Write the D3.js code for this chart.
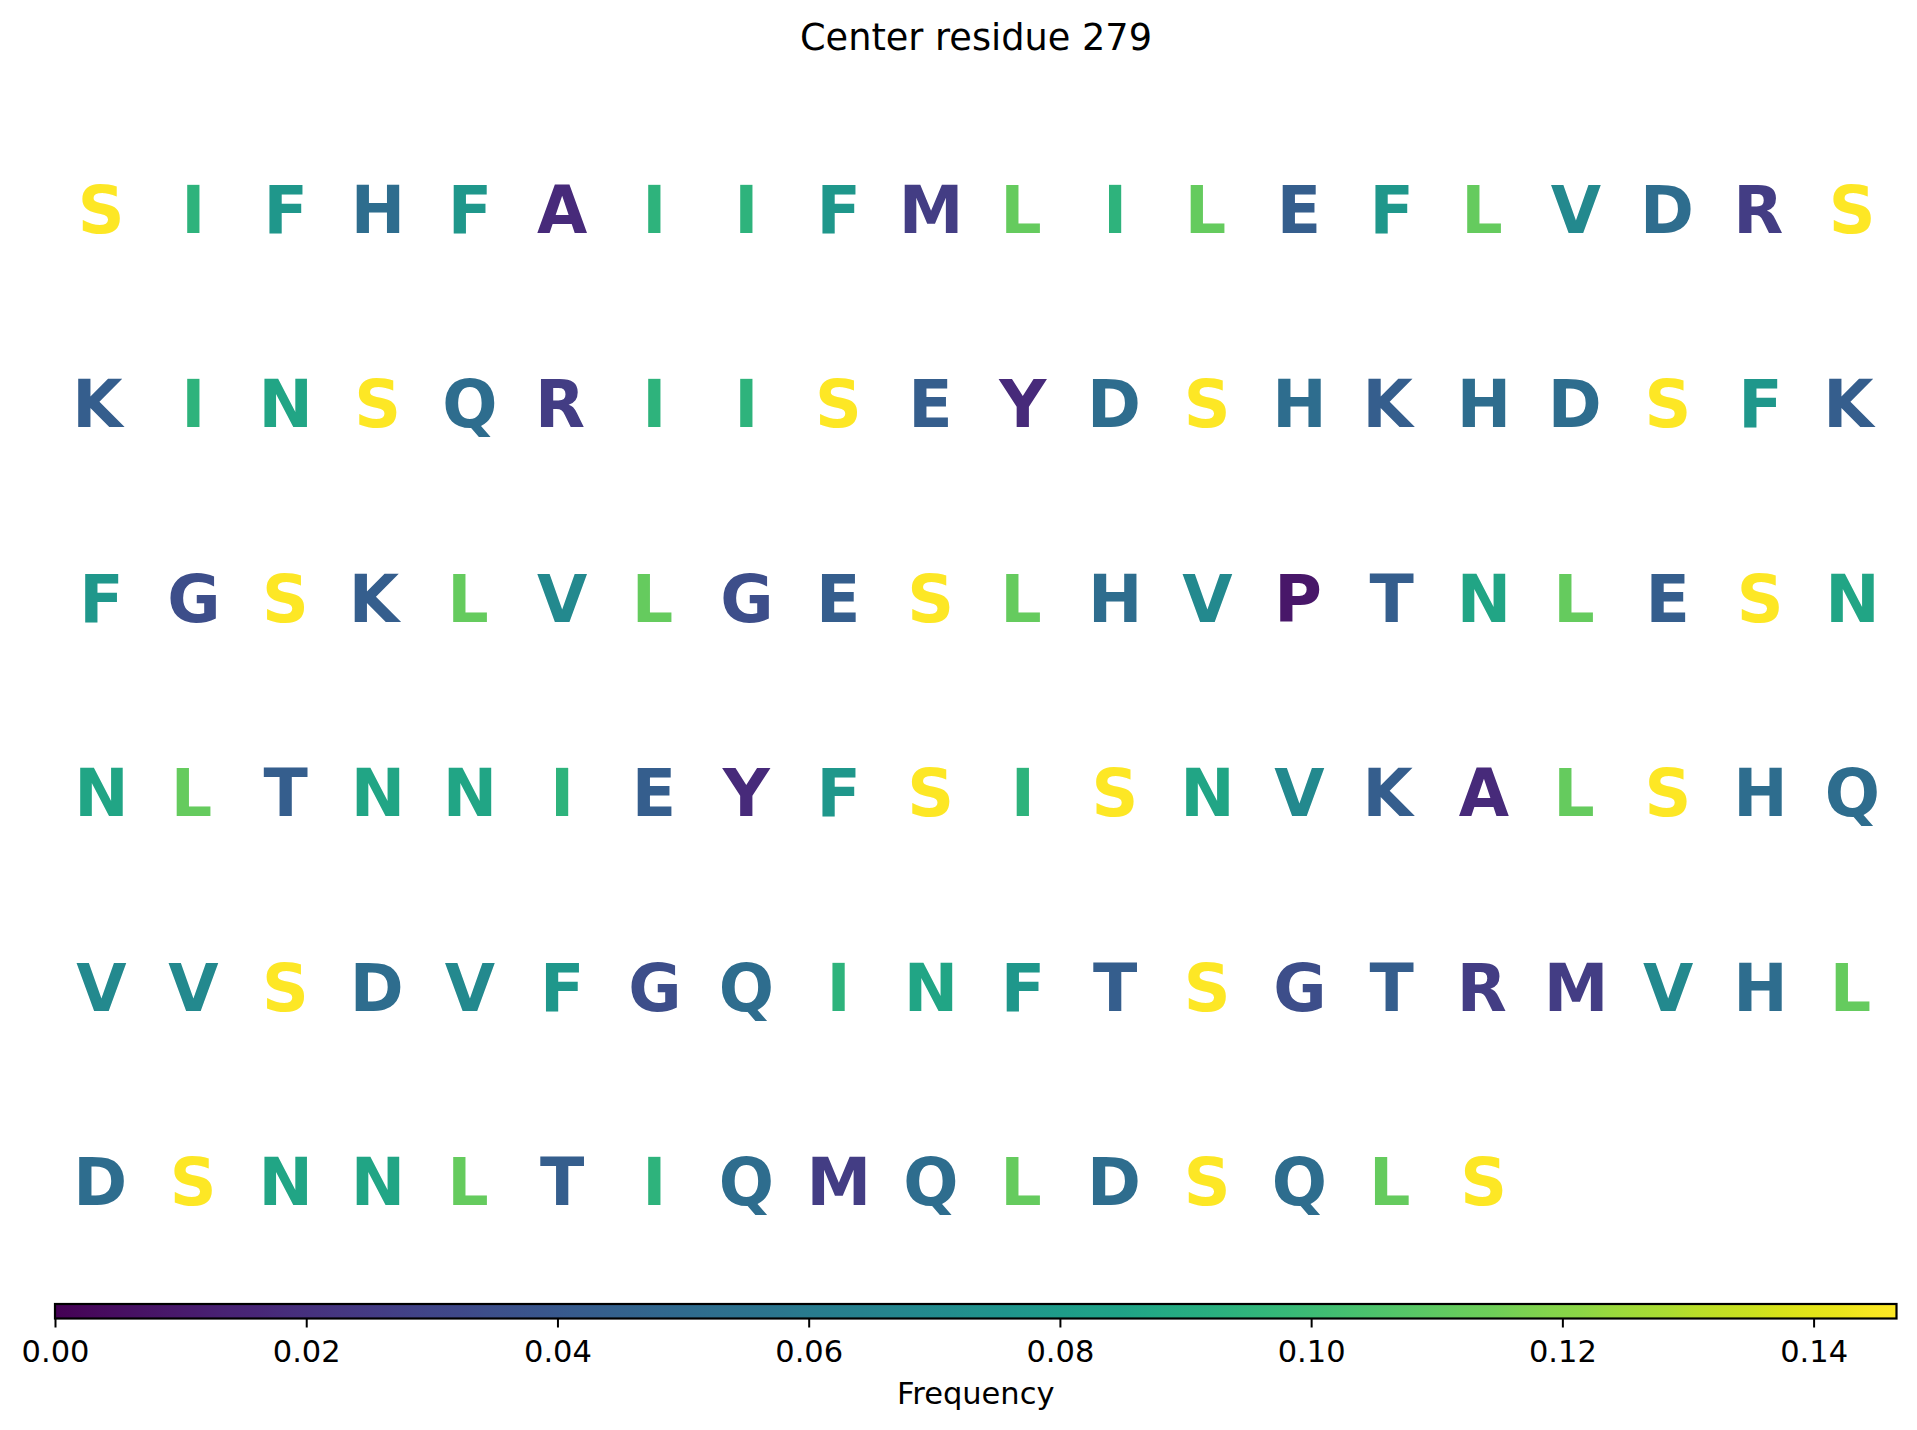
<!DOCTYPE html>
<html>
<head>
<meta charset="utf-8">
<script src="https://cdn.jsdelivr.net/npm/d3@7"></script>
<style>
  html, body { margin: 0; padding: 0; background: #ffffff; }
  svg { display: block; }
</style>
</head>
<body>
<div id="chart"></div>
<script>
// ---------------- data ----------------
const titleText = "Center residue 279";
const colorbarLabel = "Frequency";

const sequenceRows = [
  "SIFHFAIIFMLILEFLVDRS",
  "KINSQRIISEYDSHKHDSFK",
  "FGSKLVLGESLHVPTNLESN",
  "NLTNNIEYFSISNVKALSHQ",
  "VVSDVFGQINFTSGTRMVHL",
  "DSNNLTIQMQLDSQLS"
];

const aminoAcids  = ["S", "L", "I", "N", "F", "V", "D", "H", "Q", "E", "K", "T", "G", "M", "R", "A", "Y", "P"];
const frequencies = [0.1466, 0.1121, 0.0948, 0.0862, 0.0776, 0.0690, 0.0517, 0.0517, 0.0517, 0.0431, 0.0431, 0.0431, 0.0345, 0.0259, 0.0259, 0.0172, 0.0172, 0.0086];

const colorbarTicks = [0.00, 0.02, 0.04, 0.06, 0.08, 0.10, 0.12, 0.14];

// ---------------- layout ----------------
const W = 1917, H = 1430;
const letterFont = "DejaVu Sans, Liberation Sans, sans-serif";
const letterSize = 65;

const freqOf = new Map(aminoAcids.map((a, i) => [a, frequencies[i]]));
const vmax = d3.max(frequencies);

const color = d3.scaleSequential(d3.interpolateViridis).domain([0, vmax]);

const nCols = d3.max(sequenceRows, r => r.length);
const x = d3.scaleLinear().domain([0, nCols - 1]).range([101.2, 1852.3]);
const y = d3.scaleLinear().domain([0, sequenceRows.length - 1]).range([233, 1205]); // baselines

const cells = [];
sequenceRows.forEach((row, r) => {
  row.split("").forEach((ch, c) => cells.push({ ch, r, c, f: freqOf.get(ch) }));
});

// ink-centering like matplotlib (horizontal centre of glyph ink)
const cv = document.createElement("canvas").getContext("2d");
cv.font = `bold ${letterSize}px "DejaVu Sans"`;
const inkCenter = ch => {
  const m = cv.measureText(ch);
  return (m.actualBoundingBoxRight - m.actualBoundingBoxLeft) / 2;
};

const svg = d3.select("#chart").append("svg")
  .attr("width", W).attr("height", H)
  .attr("viewBox", `0 0 ${W} ${H}`);

svg.append("rect").attr("width", W).attr("height", H).attr("fill", "#ffffff");

// title
svg.append("text")
  .attr("x", 976).attr("y", 50)
  .attr("text-anchor", "middle")
  .attr("font-family", letterFont)
  .attr("font-size", 36.7)
  .attr("fill", "#000")
  .text(titleText);

// letters
svg.append("g").selectAll("text")
  .data(cells)
  .join("text")
  .attr("x", d => x(d.c) - inkCenter(d.ch))
  .attr("y", d => y(d.r))
  .attr("text-anchor", "start")
  .attr("font-family", letterFont)
  .attr("font-weight", "bold")
  .attr("font-size", letterSize)
  .attr("fill", d => color(d.f))
  .text(d => d.ch);

// ---------------- colorbar ----------------
const cbX = d3.scaleLinear().domain([0, vmax]).range([55, 1896.5]);
const cbTop = 1304, cbBottom = 1318.5;

const defs = svg.append("defs");
const grad = defs.append("linearGradient").attr("id", "viridisGrad")
  .attr("x1", "0%").attr("x2", "100%").attr("y1", "0%").attr("y2", "0%");
const nStops = 64;
grad.selectAll("stop")
  .data(d3.range(nStops + 1))
  .join("stop")
  .attr("offset", i => `${(i / nStops) * 100}%`)
  .attr("stop-color", i => color((i / nStops) * vmax));

const cb = svg.append("g");
cb.append("rect")
  .attr("x", cbX(0)).attr("y", cbTop)
  .attr("width", cbX(vmax) - cbX(0))
  .attr("height", cbBottom - cbTop)
  .attr("fill", "url(#viridisGrad)");

const axis = d3.axisBottom(cbX)
  .tickValues(colorbarTicks)
  .tickFormat(d3.format(".2f"))
  .tickSize(9)
  .tickPadding(6)
  .tickSizeOuter(0);

const ax = cb.append("g")
  .attr("transform", `translate(0,${cbBottom})`)
  .call(axis);
ax.select(".domain").remove();
ax.selectAll(".tick line").attr("stroke", "#000").attr("stroke-width", 2);
ax.selectAll(".tick text")
  .attr("font-family", letterFont)
  .attr("font-size", 30.5)
  .attr("fill", "#000")
  .attr("dy", null)
  .attr("y", 43.5);

cb.append("rect")
  .attr("x", cbX(0)).attr("y", cbTop)
  .attr("width", cbX(vmax) - cbX(0))
  .attr("height", cbBottom - cbTop)
  .attr("fill", "none")
  .attr("stroke", "#000")
  .attr("stroke-width", 2.2);

cb.append("text")
  .attr("x", (cbX(0) + cbX(vmax)) / 2)
  .attr("y", 1404)
  .attr("text-anchor", "middle")
  .attr("font-family", letterFont)
  .attr("font-size", 30.5)
  .attr("fill", "#000")
  .text(colorbarLabel);
</script>
</body>
</html>
